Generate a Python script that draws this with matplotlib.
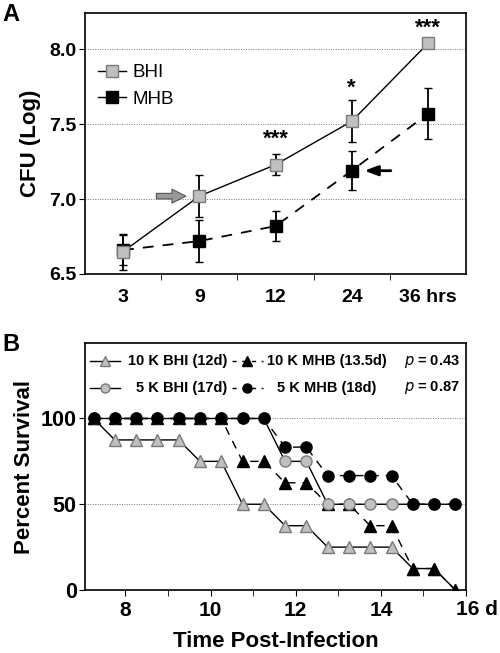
import matplotlib
matplotlib.use("Agg")
import matplotlib.pyplot as plt
from matplotlib.lines import Line2D

plt.rcParams['font.family'] = ['Liberation Sans', 'DejaVu Sans']

# ---- panel A data: CFU growth curves ----
hours = ["3", "9", "12", "24", "36 hrs"]
bhi_cfu = [6.65, 7.02, 7.23, 7.52, 8.04]
bhi_err = [0.12, 0.14, 0.07, 0.14, 0.02]
mhb_cfu = [6.66, 6.72, 6.82, 7.19, 7.57]
mhb_err = [0.10, 0.14, 0.10, 0.13, 0.17]
stars = {2: ("***", 7.40), 3: ("*", 7.74), 4: ("***", 8.14)}

# ---- panel B data: survival curves ----
days = [7.25, 7.75, 8.25, 8.75, 9.25, 9.75, 10.25, 10.75, 11.25, 11.75,
        12.25, 12.75, 13.25, 13.75, 14.25, 14.75, 15.25, 15.75]
surv_10k_bhi = [100, 87.5, 87.5, 87.5, 87.5, 75, 75, 50, 50, 37.5,
                37.5, 25, 25, 25, 25, 12.5, 12.5, 0]
surv_10k_mhb = [100, 100, 100, 100, 100, 100, 100, 75, 75, 62.5,
                62.5, 50, 50, 37.5, 37.5, 12.5, 12.5, 0]
surv_5k_bhi = [100, 100, 100, 100, 100, 100, 100, 100, 100, 75,
               75, 50, 50, 50, 50, 50, 50, 50]
surv_5k_mhb = [100, 100, 100, 100, 100, 100, 100, 100, 100, 83.3,
               83.3, 66.7, 66.7, 66.7, 66.7, 50, 50, 50]
p_values = ["0.43", "0.87"]

GRAY = "#c0c0c0"
EDGE = "#7a7a7a"
DASH = (0, (6, 5))

fig = plt.figure(figsize=(5.0, 6.53), dpi=100)

# ================= panel A =================
axA = fig.add_axes([0.17, 0.5804, 0.762, 0.3996])
x = list(range(len(hours)))

axA.errorbar(x, mhb_cfu, yerr=mhb_err, color="black", lw=1.3, ls=DASH,
             marker="s", ms=8, mfc="black", mec="black", ecolor="black",
             elinewidth=1.3, capsize=3, zorder=3)
axA.errorbar(x, bhi_cfu, yerr=bhi_err, color="black", lw=1.0, ls="-",
             marker="s", ms=8, mfc=GRAY, mec=EDGE, ecolor="black",
             elinewidth=1.3, capsize=3, zorder=4)

for i, (s, yv) in stars.items():
    axA.text(i, yv, s, ha="center", va="center", fontsize=16, fontweight="bold")

# arrows
axA.annotate("", xy=(0.86, 7.02), xytext=(0.40, 7.02),
             arrowprops=dict(arrowstyle="simple,head_length=1.0,head_width=1.0,tail_width=0.4",
                             fc="#9a9a9a", ec="#555555", lw=0.8))
axA.annotate("", xy=(3.13, 7.19), xytext=(3.55, 7.19),
             arrowprops=dict(arrowstyle="-|>,head_length=0.8,head_width=0.3",
                             fc="black", ec="black", lw=2))

axA.set_xlim(-0.5, 4.5)
axA.set_ylim(6.5, 8.243)
axA.set_yticks([6.5, 7.0, 7.5, 8.0])
axA.set_yticklabels(["6.5", "7.0", "7.5", "8.0"])
axA.set_xticks(x)
axA.set_xticklabels(hours)
axA.set_xticks([0.5, 1.5, 2.5, 3.5], minor=True)
axA.tick_params(axis="x", which="major", length=0, pad=11, labelsize=14)
axA.tick_params(axis="x", which="minor", length=4, direction="out")
axA.tick_params(axis="y", length=4, direction="out", labelsize=14, pad=2)
for lab in axA.get_xticklabels() + axA.get_yticklabels():
    lab.set_fontweight("bold")
for yv in [7.0, 7.5, 8.0]:
    axA.axhline(yv, color="#777777", lw=0.7, ls=(0, (1, 1.5)), zorder=0)
for sp in axA.spines.values():
    sp.set_linewidth(1.2)
axA.set_ylabel("CFU (Log)", fontsize=16, fontweight="bold", labelpad=6)

legA = [Line2D([], [], color="black", lw=1.0, marker="s", ms=8, mfc=GRAY, mec=EDGE),
        Line2D([], [], color="black", lw=1.0, marker="s", ms=8, mfc="black", mec="black")]
axA.legend(legA, ["BHI", "MHB"], loc="upper left", bbox_to_anchor=(0.035, 0.805),
           frameon=False, fontsize=13.5, handlelength=1.5, handletextpad=0.3,
           labelspacing=0.5, borderaxespad=0, borderpad=0)

fig.text(0.005, 0.995, "A", fontsize=17, fontweight="bold", va="top", ha="left")

# ================= panel B =================
axB = fig.add_axes([0.17, 0.0965, 0.762, 0.3782])

axB.plot(days, surv_10k_bhi, color="black", lw=1.0, ls="-", marker="^", ms=8.5,
         mfc=GRAY, mec=EDGE, zorder=3)
axB.plot(days, surv_10k_mhb, color="black", lw=1.0, ls=DASH, marker="^", ms=8.5,
         mfc="black", mec="black", zorder=4)
axB.plot(days, surv_5k_bhi, color="black", lw=1.0, ls="-", marker="o", ms=8,
         mfc=GRAY, mec=EDGE, zorder=5)
axB.plot(days, surv_5k_mhb, color="black", lw=1.0, ls=DASH, marker="o", ms=8,
         mfc="black", mec="black", zorder=6)

axB.set_xlim(7.05, 15.95)
axB.set_ylim(0, 144)
axB.set_yticks([0, 50, 100])
axB.set_xticks([8, 10, 12, 14, 16])
axB.set_xticklabels(["8", "10", "12", "14", ""])
axB.set_xticks([9, 11, 13, 15], minor=True)
axB.tick_params(axis="x", which="both", length=4, direction="out", labelsize=15, pad=4)
axB.tick_params(axis="y", length=4, direction="out", labelsize=15.5, pad=2)
for lab in axB.get_xticklabels() + axB.get_yticklabels():
    lab.set_fontweight("bold")
# "16 d" label pushed right of its tick, kept inside the figure
axB.annotate("16 d", xy=(16, 0), xycoords=axB.get_xaxis_transform(),
             xytext=(-7, -7), textcoords="offset points", ha="left", va="top",
             fontsize=15, fontweight="bold", annotation_clip=False)
for yv in [50, 100]:
    axB.axhline(yv, color="#777777", lw=0.7, ls=(0, (1, 1.5)), zorder=0)
for sp in axB.spines.values():
    sp.set_linewidth(1.2)
axB.set_ylabel("Percent Survival", fontsize=16, fontweight="bold", labelpad=4)
axB.set_xlabel("Time Post-Infection", fontsize=16, fontweight="bold", labelpad=8)

# hand-placed two-row legend with p values
rows = [(0.927, "^", "10 K BHI (12d)", "10 K MHB (13.5d)", 0.478),
        (0.818, "o", "5 K BHI (17d)", "5 K MHB (18d)", 0.504)]
tr = axB.transAxes
for (yr, mk, lab_bhi, lab_mhb, x_mhb), pv in zip(rows, p_values):
    axB.plot([0.013, 0.092], [yr, yr], color="black", lw=1.0, transform=tr, clip_on=False)
    axB.plot([0.052], [yr], marker=mk, ms=6.5, mfc=GRAY, mec=EDGE, transform=tr, clip_on=False)
    axB.text(0.373, yr, lab_bhi, transform=tr, ha="right", va="center",
             fontsize=10.5, fontweight="bold")
    axB.plot([0.386, 0.467], [yr, yr], color="black", lw=1.0, ls=(0, (3, 4)),
             transform=tr, clip_on=False)
    axB.plot([0.425], [yr], marker=mk, ms=6.5, mfc="black", mec="black",
             transform=tr, clip_on=False)
    axB.text(x_mhb, yr, lab_mhb, transform=tr, ha="left", va="center",
             fontsize=10.5, fontweight="bold")
    axB.text(0.984, yr, "$\\mathit{p}$ = " + pv, transform=tr, ha="right", va="center",
             fontsize=10.5, fontweight="bold")

fig.text(0.005, 0.49, "B", fontsize=17, fontweight="bold", va="top", ha="left")

fig.savefig("out.png", dpi=100)
